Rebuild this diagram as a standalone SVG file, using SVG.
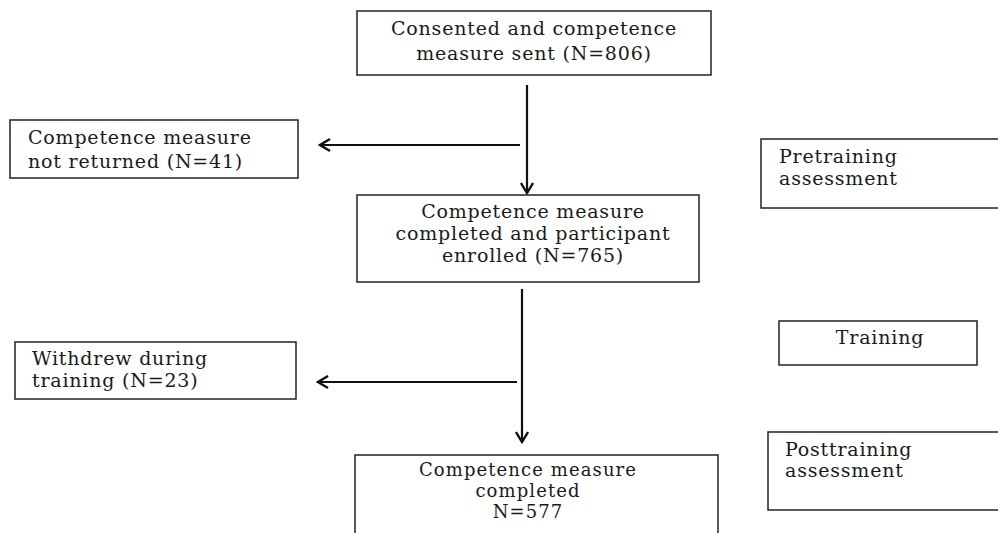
<svg xmlns="http://www.w3.org/2000/svg" width="998" height="533" viewBox="0 0 998 533">
<style>
.box{fill:#fff;stroke:#222;stroke-width:1.5}
.t{font-family:"DejaVu Serif","Liberation Serif",serif;font-size:19px;letter-spacing:0.8px;fill:#1a1a1a}
.s{font-size:18px;letter-spacing:1.1px}
.c{text-anchor:middle}
.ln{stroke:#111;stroke-width:2.2;fill:none}
</style>
<defs>
<marker id="ah" viewBox="0 0 14 14" refX="12" refY="7" markerWidth="14" markerHeight="14" markerUnits="userSpaceOnUse" orient="auto">
<path d="M2,1 L12,7 L2,13" fill="none" stroke="#111" stroke-width="2.4"/>
</marker>
</defs>
<rect width="998" height="533" fill="#fff"/>
<g id="connectors">
<line class="ln" x1="527" y1="85" x2="527" y2="193" marker-end="url(#ah)"/>
<line class="ln" x1="520" y1="145" x2="320" y2="145" marker-end="url(#ah)"/>
<line class="ln" x1="522" y1="289" x2="522" y2="442" marker-end="url(#ah)"/>
<line class="ln" x1="517" y1="382" x2="318" y2="382" marker-end="url(#ah)"/>
</g>
<g id="n1">
<rect class="box" x="357" y="11" width="354" height="64"/>
<text class="t c" x="534" y="35">Consented and competence</text>
<text class="t c" x="534" y="60">measure sent (N=806)</text>
</g>
<g id="n2">
<rect class="box" x="10" y="120" width="288" height="58"/>
<text class="t" x="28" y="144">Competence measure</text>
<text class="t" x="28" y="168">not returned (N=41)</text>
</g>
<g id="n3">
<rect class="box" x="761" y="139" width="245" height="69"/>
<text class="t" x="779" y="163">Pretraining</text>
<text class="t" x="779" y="185">assessment</text>
</g>
<g id="n4">
<rect class="box" x="357" y="195" width="342" height="87"/>
<text class="t c" x="533" y="218">Competence measure</text>
<text class="t c" x="533" y="240">completed and participant</text>
<text class="t c" x="533" y="262">enrolled (N=765)</text>
</g>
<g id="n5">
<rect class="box" x="15" y="342" width="281" height="57"/>
<text class="t" x="32" y="365">Withdrew during</text>
<text class="t" x="32" y="387">training (N=23)</text>
</g>
<g id="n6">
<rect class="box" x="779" y="321" width="198" height="44"/>
<text class="t c" x="880" y="344">Training</text>
</g>
<g id="n7">
<rect class="box" x="768" y="432" width="240" height="78"/>
<text class="t" x="785" y="456">Posttraining</text>
<text class="t" x="785" y="477">assessment</text>
</g>
<g id="n8">
<rect class="box" x="355" y="455" width="363" height="90"/>
<text class="t s c" x="528" y="476">Competence measure</text>
<text class="t s c" x="528" y="497">completed</text>
<text class="t s c" x="528" y="518">N=577</text>
</g>
</svg>
